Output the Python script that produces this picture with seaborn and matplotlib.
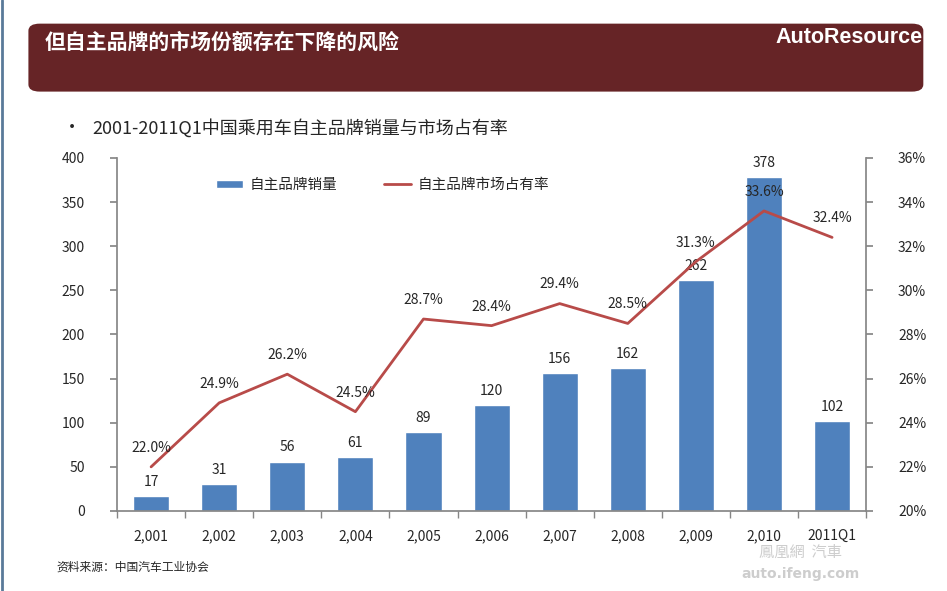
import matplotlib
matplotlib.use("Agg")
import matplotlib.pyplot as plt
from matplotlib.patches import FancyBboxPatch
import seaborn as sns
import pandas as pd
import numpy as np

# chart data
years = ["2,001", "2,002", "2,003", "2,004", "2,005", "2,006",
         "2,007", "2,008", "2,009", "2,010", "2011Q1"]
sales = [17, 31, 56, 61, 89, 120, 156, 162, 262, 378, 102]
share = [22.0, 24.9, 26.2, 24.5, 28.7, 28.4, 29.4, 28.5, 31.3, 33.6, 32.4]

bar_color = "#4f81bd"
line_color = "#b84b49"
axis_gray = "#868686"

sns.set_theme(style="white")
plt.rcParams["font.family"] = ["Noto Sans CJK SC", "DejaVu Sans"]

df = pd.DataFrame({"year": years, "sales": sales, "share": share})

fig = plt.figure(figsize=(9.47, 5.91), dpi=100)

# header band
header = FancyBboxPatch((0.03, 0.845), 0.945, 0.115, boxstyle="round,pad=0,rounding_size=0.012",
                        transform=fig.transFigure, facecolor="#662426", edgecolor="none")
fig.patches.append(header)
fig.text(0.047, 0.928, "但自主品牌的市场份额存在下降的风险", color="white",
         fontsize=15, fontweight="bold", va="center", ha="left")
fig.text(0.974, 0.937, "AutoResource", color="white", fontsize=15.5,
         fontweight="bold", va="center", ha="right",
         family=["Liberation Sans Narrow", "Liberation Sans", "DejaVu Sans"])
fig.add_artist(plt.Line2D([0.002, 0.002], [0.0, 1.0], color="#5a7a99", lw=2,
                          transform=fig.transFigure))

fig.text(0.066, 0.783, "•", fontsize=13, va="center", ha="left")
fig.text(0.097, 0.783, "2001-2011Q1中国乘用车自主品牌销量与市场占有率", fontsize=13,
         va="center", ha="left")
fig.text(0.06, 0.04, "资料来源：中国汽车工业协会", fontsize=8.5, va="center", ha="left")

ax = fig.add_axes([0.1236, 0.1354, 0.791, 0.5973])
sns.barplot(data=df, x="year", y="sales", color=bar_color, width=0.53,
            saturation=1, ax=ax, label="自主品牌销量")
ax.set_ylim(0, 400)
ax.set_yticks(range(0, 401, 50))
ax.set_xlim(-0.5, len(years) - 0.5)
ax.set_xlabel("")
ax.set_ylabel("")
for i, v in enumerate(sales):
    ax.text(i, v + 8, str(v), ha="center", va="bottom", fontsize=10)

# ticks between categories
ax.set_xticks(np.arange(len(years)))
ax.set_xticklabels(years, fontsize=10)
ax.set_xticks(np.arange(-0.5, len(years) + 0.5, 1), minor=True)
ax.tick_params(axis="x", which="major", length=0, pad=13)
ax.tick_params(axis="x", which="minor", length=5, color=axis_gray, direction="out", bottom=True)
ax.tick_params(axis="y", labelsize=10, length=5, color=axis_gray, direction="out", left=True, pad=18)
for s in ["left", "bottom"]:
    ax.spines[s].set_color(axis_gray)
ax.spines["top"].set_visible(False)
ax.spines["right"].set_visible(False)

ax2 = ax.twinx()
sns.lineplot(x=np.arange(len(years)), y=share, color=line_color, lw=2,
             ax=ax2, label="自主品牌市场占有率")
ax2.set_ylim(20, 36)
ax2.set_yticks(range(20, 37, 2))
ax2.set_yticklabels([f"{t}%" for t in range(20, 37, 2)], fontsize=10)
ax2.tick_params(axis="y", length=5, color=axis_gray, direction="out", right=True, pad=18)
ax2.spines["right"].set_color(axis_gray)
for s in ["left", "bottom", "top"]:
    ax2.spines[s].set_visible(False)
ax2.set_ylabel("")
for i, v in enumerate(share):
    ax2.text(i, v + 0.55, f"{v:.1f}%", ha="center", va="bottom", fontsize=10)

# combined legend
h1, l1 = ax.get_legend_handles_labels()
h2, l2 = ax2.get_legend_handles_labels()
if ax2.get_legend():
    ax2.get_legend().remove()
ax.legend(h1 + h2, l1 + l2, loc="upper left", bbox_to_anchor=(0.115, 0.98), ncol=2,
          frameon=False, fontsize=10.5, handlelength=1.8, handletextpad=0.5,
          columnspacing=3.2, handleheight=0.5)

# faint watermark, below the category labels
fig.text(0.845, 0.066, "鳳凰網  汽車", fontsize=11, color="#c8c8c8", ha="center",
         va="center", alpha=0.9)
fig.text(0.845, 0.028, "auto.ifeng.com", fontsize=10, color="#c8c8c8", ha="center",
         va="center", fontweight="bold", family=["DejaVu Sans"], alpha=0.9)

fig.savefig("out.png", dpi=100, facecolor="white")
